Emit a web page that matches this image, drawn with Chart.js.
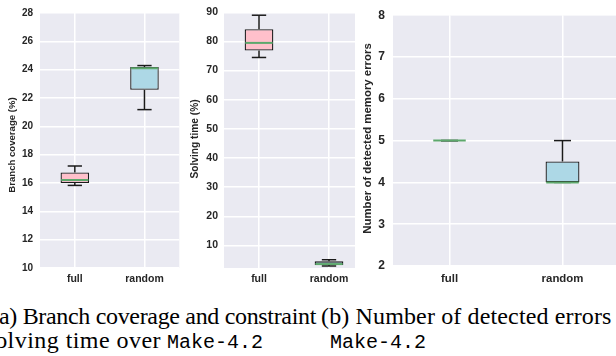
<!DOCTYPE html>
<html><head><meta charset="utf-8">
<script src="https://cdn.jsdelivr.net/npm/chart.js@4.4.0/dist/chart.umd.min.js"></script>
<style>
html,body{margin:0;padding:0;width:616px;height:356px;overflow:hidden;background:#fff;position:relative;}
.p{position:absolute;top:0;height:290px;}
canvas{display:block;}
.cap{position:absolute;white-space:nowrap;color:#000;}
.serif{font-family:"Liberation Serif",serif;font-size:24px;line-height:24px;}
.mono{font-family:"Liberation Mono",monospace;font-size:20px;line-height:20px;}
</style></head><body>
<div class="p" style="left:0;width:182px;"><canvas id="c1" width="182" height="290" style="width:182px;height:290px"></canvas></div>
<div class="p" style="left:185px;width:170px;overflow:hidden;"><canvas id="c2" width="181" height="290" style="width:181px;height:290px"></canvas></div>
<div class="p" style="left:356px;width:263px;"><canvas id="c3" width="263" height="290" style="width:263px;height:290px"></canvas></div>

<div class="cap serif" style="right:300px;top:304px;letter-spacing:-0.33px;">(a) Branch coverage and constraint</div>
<div class="cap serif" style="right:455px;top:328px;letter-spacing:0.45px;">solving time over</div>
<div class="cap mono" style="left:167px;top:333px;">Make-4.2</div>
<div class="cap serif" style="left:321px;top:304px;letter-spacing:0.14px;">(b) Number of detected errors</div>
<div class="cap mono" style="left:330px;top:333px;">Make-4.2</div>

<script>
// ---- data ----
const categories = ['full', 'random'];
const boxColors = ['#FFC0CB', '#ADD8E6'];

// Branch coverage (%)
const coverageMin = [15.83, 21.18];
const coverageQ1  = [16.0, 22.58];
const coverageMed = [16.21, 24.1];
const coverageQ3  = [16.74, 24.19];
const coverageMax = [17.2, 24.29];
const coverageTicks = [10, 12, 14, 16, 18, 20, 22, 24, 26, 28];

// Solving time (%)
const timeMin = [74.5, 2.95];
const timeQ1  = [76.9, 3.3];
const timeMed = [79.5, 3.6];
const timeQ3  = [84.2, 4.55];
const timeMax = [89.0, 5.1];
const timeTicks = [10, 20, 30, 40, 50, 60, 70, 80, 90];

// Number of detected memory errors
const errorMin = [5, 4];
const errorQ1  = [5, 4];
const errorMed = [5, 4];
const errorQ3  = [5, 4.5];
const errorMax = [5, 5];
const errorTicks = [2, 3, 4, 5, 6, 7, 8];

const TEXT = '#262626';
const FONT = '"Liberation Sans", Arial, sans-serif';

const bgPlugin = {
  id: 'bg',
  beforeDraw(chart) {
    const {ctx, chartArea: a} = chart;
    ctx.save();
    ctx.fillStyle = '#EAEAF2';
    ctx.fillRect(a.left, a.top, a.right - a.left, a.bottom - a.top);
    ctx.restore();
  }
};

const boxPlugin = {
  id: 'boxwhisk',
  afterDatasetsDraw(chart, args, o) {
    const {ctx, scales: {x, y}} = chart;
    const meta = chart.getDatasetMeta(0);
    const line = (x1, y1, x2, y2) => { ctx.beginPath(); ctx.moveTo(x1, y1); ctx.lineTo(x2, y2); ctx.stroke(); };
    categories.forEach((c, i) => {
      const bar = meta.data[i];
      const cx = x.getPixelForValue(i);
      const half = bar.width / 2;
      const capHalf = half / 2;
      ctx.save();
      ctx.strokeStyle = '#1a1a1a';
      ctx.lineWidth = 1.5;
      line(cx, y.getPixelForValue(o.q3[i]), cx, y.getPixelForValue(o.max[i]));
      line(cx, y.getPixelForValue(o.q1[i]), cx, y.getPixelForValue(o.min[i]));
      line(cx - capHalf, y.getPixelForValue(o.max[i]), cx + capHalf, y.getPixelForValue(o.max[i]));
      line(cx - capHalf, y.getPixelForValue(o.min[i]), cx + capHalf, y.getPixelForValue(o.min[i]));
      ctx.strokeStyle = '#5DA86C';
      ctx.lineWidth = 2;
      line(cx - half + 0.7, y.getPixelForValue(o.med[i]), cx + half - 0.7, y.getPixelForValue(o.med[i]));
      ctx.restore();
    });
  }
};

const yTitlePlugin = {
  id: 'ytitle',
  afterDraw(chart, args, o) {
    const ctx = chart.ctx;
    ctx.save();
    ctx.translate(o.x, o.y);
    ctx.rotate(-Math.PI / 2);
    ctx.fillStyle = TEXT;
    ctx.font = 'bold ' + o.size + 'px ' + FONT;
    ctx.textAlign = 'center';
    ctx.textBaseline = 'middle';
    ctx.fillText(o.text, 0, 0);
    ctx.restore();
  }
};

function boxChart(id, s) {
  return new Chart(document.getElementById(id), {
    type: 'bar',
    data: {
      labels: categories,
      datasets: [{
        data: categories.map((c, i) => [s.q1[i], s.q3[i]]),
        backgroundColor: boxColors,
        borderColor: '#1a1a1a',
        borderWidth: 1.3,
        borderSkipped: false,
        barPercentage: s.barPct,
        categoryPercentage: 1
      }]
    },
    options: {
      responsive: false,
      animation: false,
      events: [],
      layout: {padding: {left: 0, top: s.top, right: s.right, bottom: 0}},
      plugins: {
        legend: {display: false},
        tooltip: {enabled: false},
        boxwhisk: {min: s.min, q1: s.q1, med: s.med, q3: s.q3, max: s.max},
        ytitle: s.title
      },
      scales: {
        x: {
          grid: {color: '#ffffff', lineWidth: 1.5, offset: false, drawTicks: false},
          border: {display: false},
          ticks: {color: TEXT, font: {family: FONT, weight: 'bold', size: s.xFont}, padding: s.xPad},
          afterFit: sc => { sc.height = s.xH; }
        },
        y: {
          min: s.yMin, max: s.yMax,
          afterBuildTicks: sc => { sc.ticks = s.ticks.map(v => ({value: v})); },
          grid: {color: '#ffffff', lineWidth: 1.5, drawTicks: false},
          border: {display: false},
          ticks: {color: TEXT, font: {family: FONT, weight: 'bold', size: s.yFont}, padding: s.yPad},
          afterFit: sc => { sc.width = s.yW; }
        }
      }
    },
    plugins: [bgPlugin, boxPlugin, yTitlePlugin]
  });
}

boxChart('c1', {
  q1: coverageQ1, q3: coverageQ3, min: coverageMin, max: coverageMax, med: coverageMed,
  ticks: coverageTicks, yMin: 10, yMax: 28,
  barPct: 0.41, top: 11, right: 2.7, xH: 22, yW: 40,
  xFont: 10.5, yFont: 10, xPad: 5, yPad: 7,
  title: {text: 'Branch coverage (%)', x: 12, y: 145, size: 9.6}
});

boxChart('c2', {
  q1: timeQ1, q3: timeQ3, min: timeMin, max: timeMax, med: timeMed,
  ticks: timeTicks, yMin: 2.26, yMax: 90,
  barPct: 0.41, top: 11, right: 2, xH: 22, yW: 39,
  xFont: 10.5, yFont: 10.5, xPad: 5, yPad: 6,
  title: {text: 'Solving time (%)', x: 10, y: 139, size: 10.2}
});

boxChart('c3', {
  q1: errorQ1, q3: errorQ3, min: errorMin, max: errorMax, med: errorMed,
  ticks: errorTicks, yMin: 2, yMax: 8,
  barPct: 0.30, top: 11, right: 0, xH: 24, yW: 37,
  xFont: 11.4, yFont: 12, xPad: 6, yPad: 8,
  title: {text: 'Number of detected memory errors', x: 12, y: 138.5, size: 11.4}
});
</script>
</body></html>
